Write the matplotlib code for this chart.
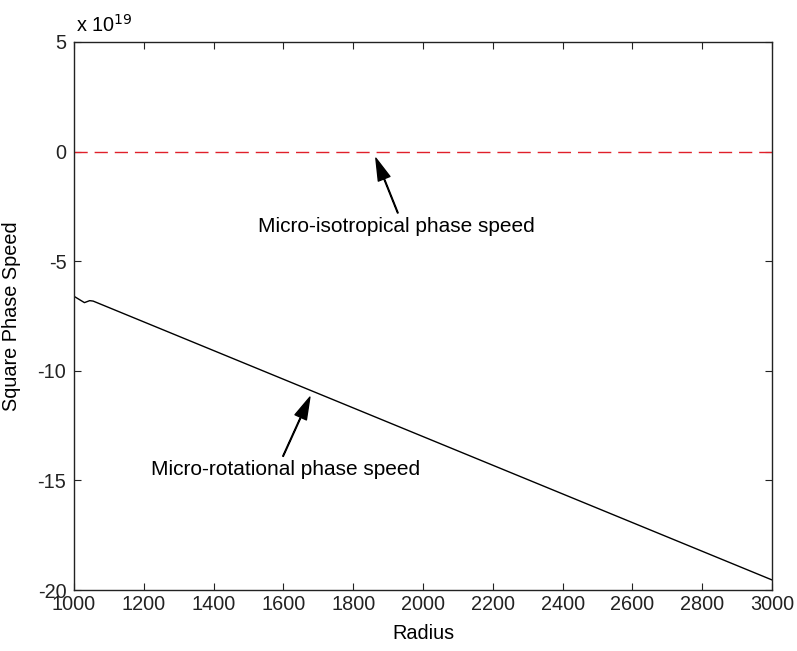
import matplotlib
matplotlib.use("Agg")
import matplotlib.pyplot as plt

# values in units of 1e19
radius_rot = [1000, 1030, 1045, 1055, 3000]
speed_rot = [-6.60, -6.89, -6.80, -6.82, -19.54]
radius_iso = [1000, 3000]
speed_iso = [0.0, 0.0]
xticks = list(range(1000, 3001, 200))
yticks = [5, 0, -5, -10, -15, -20]

plt.rcParams['font.family'] = ['Liberation Sans', 'DejaVu Sans']
fs = 14.3

fig = plt.figure(figsize=(7.97, 6.51), dpi=100)
ax = fig.add_axes([0.0928, 0.0937, 0.8758, 0.8418])

ax.plot(radius_rot, speed_rot, color='black', linewidth=1)
ax.plot(radius_iso, speed_iso, color='#e0202a', linewidth=1, linestyle=(0, (9.5, 5)))

ax.set_xlim(1000, 3000)
ax.set_ylim(-20, 5)
ax.set_xticks(xticks)
ax.set_yticks(yticks)
ax.set_yticklabels([str(v) for v in yticks])
ax.tick_params(direction='in', length=5, top=True, right=True, labelsize=fs, colors='#222222')
ax.tick_params(axis='x', pad=3.5)
ax.tick_params(axis='y', pad=5.5)
for s in ax.spines.values():
    s.set_linewidth(1)
    s.set_color('#222222')

ax.set_xlabel('Radius', fontsize=fs, va='center')
ax.xaxis.set_label_coords(0.5, -0.0785)
ax.set_ylabel('Square Phase Speed', fontsize=fs, va='center')
ax.yaxis.set_label_coords(-0.089, 0.5)
ax.text(0.003, 1.018, r'x 10$^{19}$', transform=ax.transAxes, fontsize=fs, ha='left', va='baseline')

arrow = dict(facecolor='black', edgecolor='black', width=0.5, headwidth=9, headlength=16, shrink=0)
ax.annotate('', xy=(1865, -0.3), xytext=(1928, -2.8), arrowprops=arrow)
ax.text(1925, -3.4, 'Micro-isotropical phase speed', fontsize=15, ha='center', va='center')
ax.annotate('', xy=(1676, -11.2), xytext=(1599, -13.9), arrowprops=arrow)
ax.text(1605, -14.5, 'Micro-rotational phase speed', fontsize=15, ha='center', va='center')

fig.savefig('out.png', dpi=100)
